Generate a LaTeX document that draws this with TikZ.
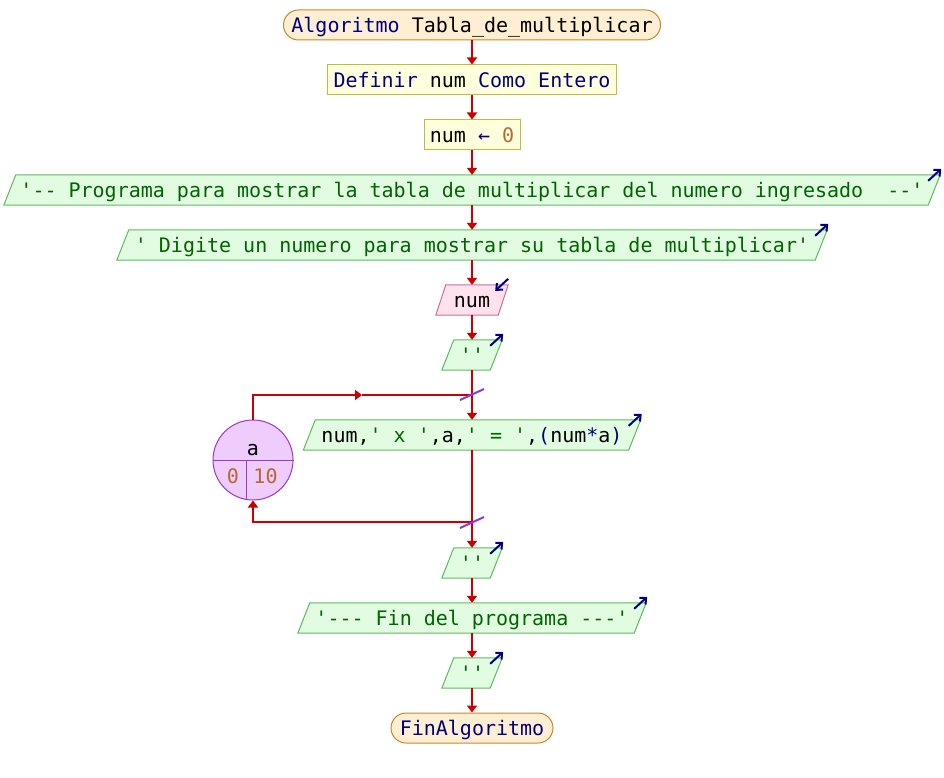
\documentclass[tikz,border=0pt]{standalone}
\usepackage{fontspec}
\setmonofont{DejaVu Sans Mono}
\usetikzlibrary{arrows.meta,backgrounds,calc}
\definecolor{kw}{HTML}{000080}
\definecolor{strc}{HTML}{006400}
\definecolor{numc}{HTML}{B8672E}
\definecolor{flowc}{HTML}{CC0000}
\definecolor{termfill}{HTML}{FFEFD2}
\definecolor{termdraw}{HTML}{C8862E}
\definecolor{procfill}{HTML}{FFFFDD}
\definecolor{procdraw}{HTML}{BEBE3C}
\definecolor{outfill}{HTML}{E2FCE2}
\definecolor{outdraw}{HTML}{5DBB5D}
\definecolor{infill}{HTML}{FFE2EE}
\definecolor{indraw}{HTML}{CC6E96}
\definecolor{loopfill}{HTML}{EECCFB}
\definecolor{loopdraw}{HTML}{9A3ACC}
\definecolor{slashc}{HTML}{8B3AD0}
\tikzset{
  txt/.style={font=\ttfamily\fontsize{20}{24}\selectfont, inner sep=0pt,
    text height=20pt, text depth=5pt, minimum height=30pt, anchor=center},
  term/.style={txt, rounded corners=15pt, draw=termdraw, fill=termfill, line width=1pt},
  proc/.style={txt, draw=procdraw, fill=procfill, line width=1pt},
  iobox/.style={txt},
  outshape/.style={fill=outfill, draw=outdraw, line width=1pt},
  inshape/.style={fill=infill, draw=indraw, line width=1pt},
  flow/.style={draw=flowc, line width=2.5pt, -{Triangle[length=7pt,width=10pt]}},
  plain/.style={draw=flowc, line width=2.5pt},
  ioarrow/.style={draw=kw, line width=2pt, -{Straight Barb[length=5pt,width=9pt]}},
  slash/.style={draw=slashc, line width=2pt},
}
\begin{document}
\begin{tikzpicture}[x=1pt,y=-1pt]
\useasboundingbox (0,0) rectangle (944,778);
% nodes
\node[term, minimum width=377pt] (t1) at (472,25) {\textcolor{kw}{Algoritmo} Tabla\_de\_multiplicar};
\node[proc, minimum width=289pt] (d1) at (472,80) {\textcolor{kw}{Definir} num \textcolor{kw}{Como Entero}};
\node[proc, minimum width=96pt] (a1) at (472,135) {num \textcolor{kw}{←} \textcolor{numc}{0}};
\node[iobox, minimum width=924pt, text=strc] (o1) at (472,190) {'-- Programa para mostrar la tabla de multiplicar del numero ingresado\ \ --'};
\node[iobox, minimum width=698pt, text=strc] (o2) at (472,245) {' Digite un numero para mostrar su tabla de multiplicar'};
\node[iobox, minimum width=62pt] (i1) at (472,300) {num};
\node[iobox, minimum width=48pt, text=strc] (o3) at (472,355) {''};
\node[iobox, minimum width=325pt] (o4) at (472,435) {num,\textcolor{strc}{' x '},a,\textcolor{strc}{' = '},\textcolor{kw}{(}num\textcolor{kw}{*}a\textcolor{kw}{)}};
\node[iobox, minimum width=48pt, text=strc] (o5) at (472,563) {''};
\node[iobox, minimum width=336pt, text=strc] (o6) at (472,618) {'--- Fin del programa ---'};
\node[iobox, minimum width=48pt, text=strc] (o7) at (472,673) {''};
\node[term, minimum width=162pt] (t2) at (472,728) {\textcolor{kw}{FinAlgoritmo}};
% loop circle
\node[circle, minimum size=80pt, inner sep=0pt, draw=loopdraw, fill=loopfill, line width=1pt] (lc) at (253,460) {};
\draw[draw=loopdraw, line width=1pt] (lc.west) -- (lc.east);
\draw[draw=loopdraw, line width=1pt] (lc.261.4) -- (lc.261.4 |- lc.center);
\node[txt] (lv) at (253,447.5) {a};
\node[txt, text=numc] (l0) at (233,475.5) {0};
\node[txt, text=numc] (l10) at (265.5,475.5) {10};
% shapes on background
\begin{scope}[on background layer]
\foreach \n in {o1,o2,o3,o4,o5,o6,o7}{
  \filldraw[outshape] ([xshift=-6pt]\n.south west) -- ([xshift=6pt]\n.north west)
    -- ([xshift=6pt]\n.north east) -- ([xshift=-6pt]\n.south east) -- cycle;
}
\filldraw[inshape] ([xshift=-5pt]i1.south west) -- ([xshift=5pt]i1.north west)
    -- ([xshift=5pt]i1.north east) -- ([xshift=-5pt]i1.south east) -- cycle;
\end{scope}
% io indicators
\foreach \n in {o1,o2,o3,o4,o5,o6,o7}{
  \draw[ioarrow] ([shift={(-6,6)}]\n.north east) -- ([shift={(7,-6)}]\n.north east);
}
\draw[ioarrow] ([shift={(5,-6)}]i1.north east) -- ([shift={(-8,6)}]i1.north east);
% loop coordinates
\coordinate (ltop) at (472,395);
\coordinate (lmid) at (362,395);
\coordinate (lbot) at (472,522);
% connectors
\draw[flow] (t1.south) -- (d1.north);
\draw[flow] (d1.south) -- (a1.north);
\draw[flow] (a1.south) -- (o1.north);
\draw[flow] (o1.south) -- (o2.north);
\draw[flow] (o2.south) -- (i1.north);
\draw[flow] (i1.south) -- (o3.north);
\draw[flow] (o3.south) -- (o4.north);
\draw[flow] (o4.south) -- (o5.north);
\draw[flow] (lc.north) |- (lmid);
\draw[plain] (lmid) -- (ltop);
\draw[flow] (lbot) -| (lc.south);
\draw[flow] (o5.south) -- (o6.north);
\draw[flow] (o6.south) -- (o7.north);
\draw[flow] (o7.south) -- (t2.north);
% loop slashes
\draw[slash] ([shift={(-12,5)}]ltop) -- ([shift={(12,-6)}]ltop);
\draw[slash] ([shift={(-12,6)}]lbot) -- ([shift={(12,-5)}]lbot);
\end{tikzpicture}
\end{document}
